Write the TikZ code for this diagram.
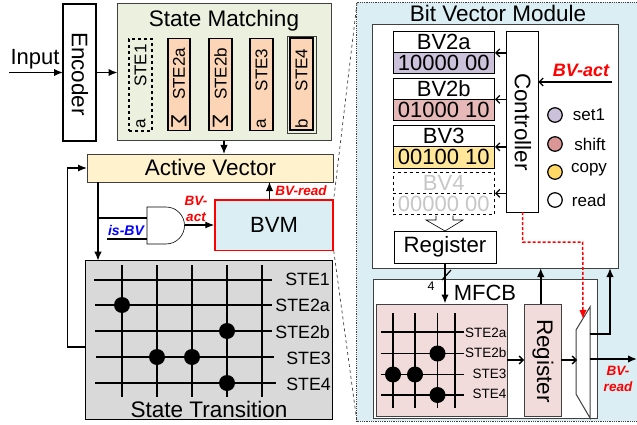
\documentclass[tikz,border=0pt]{standalone}
\usepackage{fontspec}
\setmainfont{Liberation Sans}
\usetikzlibrary{arrows.meta}
\definecolor{smgreen}{HTML}{EBF1DE}
\definecolor{stefill}{HTML}{FBD5B5}
\definecolor{avfill}{HTML}{FFF2CC}
\definecolor{bvmblue}{HTML}{DAEEF3}
\definecolor{stgray}{HTML}{D9D9D9}
\definecolor{setc}{HTML}{CCC1DA}
\definecolor{shiftc}{HTML}{E6B9B8}
\definecolor{shiftd}{HTML}{D99694}
\definecolor{copyc}{HTML}{FFE699}
\definecolor{copyd}{HTML}{FFD966}
\definecolor{pinkc}{HTML}{F2DCDB}
\definecolor{edge}{HTML}{404040}
\tikzset{
  x=1pt,y=-1pt,
  wire/.style={draw=black,line width=1.6pt},
  arr/.style={wire,-{Latex[length=9pt,width=7.5pt]}},
  openarr/.style={draw=black,line width=1.3pt,-{Straight Barb[length=4pt,width=8pt]}},
  box/.style={draw=edge,line width=1pt,inner sep=0pt,outer sep=0pt},
  ste/.style={draw=black,line width=1.6pt,fill=stefill,minimum width=22.5pt,minimum height=92pt,inner sep=0pt},
  stelab/.style={font=\fontsize{17}{17}\selectfont,rotate=90,inner sep=0pt},
  sigmalab/.style={font=\fontsize{22}{22}\selectfont,rotate=-90,inner sep=0pt},
  ttl/.style={font=\fontsize{22.5}{23}\selectfont,inner sep=0pt},
  xwire/.style={draw=black,line width=1.4pt},
  dot/.style={circle,fill=black,minimum size=16pt,inner sep=0pt},
  xlab/.style={font=\fontsize{17.8}{18}\selectfont,anchor=east,inner sep=0pt},
  mlab/.style={font=\fontsize{13.5}{14}\selectfont,anchor=east,inner sep=0pt},
  redlab/.style={font=\fontsize{13.5}{14}\selectfont\bfseries\itshape,text=red,inner sep=0pt},
  bvtop/.style={draw=black,line width=.8pt,fill=white,minimum width=101.5pt,minimum height=21pt,inner sep=0pt,font=\fontsize{22}{22}\selectfont},
  bvlow/.style={draw=black,line width=.8pt,minimum width=101.5pt,minimum height=21.5pt,inner sep=0pt,font=\fontsize{22}{22}\selectfont},
  legc/.style={circle,draw=black,line width=1.2pt,minimum size=14.5pt,inner sep=0pt},
  leglab/.style={font=\fontsize{17}{17}\selectfont,inner sep=0pt},
}
\begin{document}
\begin{tikzpicture}
\useasboundingbox (0,0) rectangle (637,425);
% --- right panel
\node[draw=edge,densely dotted,line width=.8pt,fill=bvmblue,minimum width=280.5pt,minimum height=419pt,inner sep=0pt] (panel) at (496.75,211.5) {};
\node[ttl] (paneltitle) at (498,13.5) {Bit Vector Module};
\node[box,fill=white,minimum width=246pt,minimum height=243pt] (bvbox) at (495,146.5) {};
% BV stacks
\node[bvtop] (bva) at (443.75,42) {BV2a};
\node[bvlow,fill=setc] (bval) at (443.75,63) {10000 00};
\node[bvtop] (bvb) at (443.75,88.5) {BV2b};
\node[bvlow,fill=shiftc] (bvbl) at (443.75,110) {01000 10};
\node[bvtop] (bvc) at (443.75,136) {BV3};
\node[bvlow,fill=copyc] (bvcl) at (443.75,157.2) {00100 10};
\node[bvtop,dashed,text=black!22] (bvd) at (443.75,182.5) {BV4};
\node[bvlow,dashed,text=black!22] (bvdl) at (443.75,204) {00000 00};
\node[box,draw=black,line width=.8pt,fill=white,minimum width=31.5pt,minimum height=181pt] (ctrl) at (522.5,121.5) {};
\node[rotate=-90,font=\fontsize{22.5}{23}\selectfont,inner sep=0pt] (ctrllab) at (523,122) {Controller};
\coordinate (ca) at (ctrl.west |- bva.south);
\coordinate (cb) at (ctrl.west |- bvb.south);
\coordinate (cc) at (ctrl.west |- bvc.south);
\coordinate (cd) at (ctrl.west |- bvd.south);
\draw[openarr] (ca) -- (bva.south east);
\draw[openarr] (cb) -- (bvb.south east);
\draw[openarr] (cc) -- (bvc.south east);
\draw[openarr] (cd) -- (bvd.south east);
\coordinate (actin) at (612,82);
\draw[openarr] (actin) -- (ctrl.east |- actin);
\node[redlab,font=\fontsize{18}{18}\selectfont\bfseries\itshape] (actlab) at (581,70) {BV-act};
\node[legc,fill=setc] (l1) at (555,115) {};
\node[legc,fill=shiftd] (l2) at (555,144) {};
\node[legc,fill=copyd] (l3) at (555,172) {};
\node[legc,fill=white] (l4) at (555,200) {};
\node[leglab] (t1) at (589,114.5) {set1};
\node[leglab] (t2) at (590,144) {shift};
\node[leglab] (t3) at (589,170) {copy};
\node[leglab] (t4) at (589,200) {read};
% hollow arrow
\draw[draw=black,line width=.6pt,fill=white] (436,215.5) -- (436,220) -- (426,220) -- (445,231) -- (463,220) -- (453,220) -- (453,215.5);
\node[box,draw=black,line width=.8pt,fill=white,minimum width=102pt,minimum height=32pt,font=\fontsize{22.2}{23}\selectfont] (regtop) at (445,247) {Register};
% MFCB
\node[box,fill=white,minimum width=224pt,minimum height=139pt] (mfcb) at (485,348.5) {};
\node[ttl,font=\fontsize{22}{22}\selectfont] (mfcblab) at (485,293) {MFCB};
\node[box,fill=pinkc,minimum width=131pt,minimum height=112pt] (xb) at (441.5,360) {};
\node[box,fill=pinkc,minimum width=37pt,minimum height=112pt] (reg2) at (542.5,360) {};
\node[rotate=-90,font=\fontsize{22.5}{23}\selectfont,inner sep=0pt] (reg2lab) at (543,361) {Register};
% small crossbar
\foreach \x in {393,415,437.5,455} \draw[xwire] (\x,313) -- (\x,408);
\foreach \y in {332,353.5,374.5,395} \draw[xwire] (381,\y) -- (463.5,\y);
\foreach \p/\q/\n in {437.5/353.5/a,393/374.5/b,415/374.5/c,437.5/395/d} \node[dot] (m\n) at (\p,\q) {};
\node[mlab] (m1) at (506.5,332.5) {STE2a};
\node[mlab] (m2) at (506.5,353) {STE2b};
\node[mlab] (m3) at (506.5,373.5) {STE3};
\node[mlab] (m4) at (506.5,394) {STE4};
% mux
\draw[draw=edge,line width=1pt,fill=white] (576,330) -- (590,307) -- (590,418) -- (576,394) -- cycle;
\coordinate (muxin) at (577,360);
\coordinate (muxa) at (590,334);
\coordinate (muxb) at (590,359);
\coordinate (muxred) at (583,319);
\coordinate (muxup) at (610,268);
\coordinate (bvrout) at (637,359);
\coordinate (regout) at (540.7,304);
\coordinate (regin) at (540.7,268);
\coordinate (xbin) at (445,303.5);
\draw[openarr] (xb.east) -- (reg2.west);
\draw[openarr] (reg2.east) -- (muxin);
\draw[arr] (muxa) -| (muxup);
\draw[arr] (muxb) -- (bvrout);
\draw[arr] (regout) -- (regin);
\draw[arr] (regtop.south) -- (xbin);
\coordinate (sa) at (442,280); \coordinate (sb) at (451,270);
\draw[draw=black,line width=1.2pt] (sa) -- (sb);
\node[font=\fontsize{12.5}{13}\selectfont,inner sep=0pt] (four) at (431,286.5) {4};
\draw[draw=red,line width=1.5pt,densely dashed,-{Latex[length=9pt,width=7.5pt]}] (522.5,212) -- (522.5,242) -- (582.7,242) -- (muxred);
\node[redlab] (r1) at (618,371) {BV-};
\node[redlab] (r2) at (618,386.5) {read};
% --- dashed zoom lines
\coordinate (d1) at (357,3); \coordinate (d2) at (357,422);
% --- left side
\node[box,draw=black,line width=1.6pt,fill=white,minimum width=33pt,minimum height=137pt] (enc) at (79.5,72.5) {};
\node[rotate=-90,font=\fontsize{22.5}{23}\selectfont,inner sep=0pt] (enclab) at (80,74) {Encoder};
\node[font=\fontsize{22}{22}\selectfont,inner sep=0pt] (input) at (35,59) {Input};
\coordinate (inp) at (9,72.5);
\draw[arr] (inp) -- (enc.west |- inp);
\node[box,fill=smgreen,minimum width=214pt,minimum height=137pt] (sm) at (224.5,72.5) {};
\draw[arr] (enc.east |- inp) -- (sm.west |- inp);
\node[ttl] (smlab) at (224,21) {State Matching};
\node[ste,draw=black,dashed,fill=none,minimum width=23pt] (s1) at (140.5,85) {};
\node[ste] (s2) at (179,84.5) {};
\node[ste] (s3) at (220.5,84.5) {};
\node[ste] (s4) at (261.5,84.5) {};
\node[draw=edge,line width=.8pt,minimum width=29pt,minimum height=97pt,inner sep=0pt] (s5o) at (301.5,84.5) {};
\node[ste,line width=2pt] (s5) at (301.5,84.5) {};
\node[stelab] (s1t) at (140.5,65.5) {STE1};
\node[stelab] (s2t) at (179,74) {STE2a};
\node[stelab] (s3t) at (220.5,74) {STE2b};
\node[stelab] (s4t) at (261.5,70) {STE3};
\node[stelab] (s5t) at (301.5,70) {STE4};
\node[stelab] (s1s) at (141,124) {a};
\node[sigmalab] (s2s) at (179,121) {Σ};
\node[sigmalab] (s3s) at (220.5,121) {Σ};
\node[stelab] (s4s) at (261.5,124) {a};
\node[stelab] (s5s) at (301.5,124) {b};
% active vector
\node[box,fill=avfill,minimum width=246pt,minimum height=28pt] (av) at (210,168) {};
\node[font=\fontsize{22.5}{23}\selectfont,inner sep=0pt] (avlab) at (210.5,167) {Active Vector};
\coordinate (avin) at (224,154);
\coordinate (smout) at (224,141);
\draw[arr,line width=1.3pt] (smout) -- (avin);
% BVM
\node[draw=red,line width=1.5pt,fill=bvmblue,minimum width=118pt,minimum height=50.5pt,inner sep=0pt,font=\fontsize{22}{22}\selectfont] (bvm) at (274,225) {BVM};
\coordinate (bvmout) at (269.5,200);
\coordinate (avread) at (269.5,182);
\draw[arr,line width=1.3pt] (bvmout) -- (avread);
\node[redlab] (bvread) at (301,190.5) {BV-read};
% gate
\draw[draw=black,line width=.6pt,fill=white] (147,207) -- (166,207) arc[start angle=90,end angle=-90,radius=18.5pt] -- (147,244) -- cycle;
\coordinate (gatea) at (147,218);
\coordinate (gateb) at (147,239);
\coordinate (gateo) at (184.5,225);
\coordinate (isbv) at (107,239);
\coordinate (tap) at (98,218);
\draw[draw=black,line width=1.2pt] (tap) -- (gatea);
\draw[draw=black,line width=1.2pt] (isbv) -- (gateb);
\node[font=\fontsize{14}{14}\selectfont\bfseries\itshape,text=blue,inner sep=0pt] (isbvlab) at (126,230) {is-BV};
\draw[draw=black,line width=1.2pt,-{Latex[length=9pt,width=7pt]}] (gateo) -- (bvm.west |- gateo);
\node[redlab] (a1) at (196,200.5) {BV-};
\node[redlab] (a2) at (196,217) {act};
% state transition
\node[box,draw=black,line width=.8pt,fill=stgray,minimum width=247pt,minimum height=158.5pt] (st) at (209,340) {};
\coordinate (avout) at (98,182);
\coordinate (stin) at (98,260.7);
\coordinate (stout) at (85.5,347);
\coordinate (loop) at (67.5,347);
\draw[arr,line width=1.5pt] (avout) -- (stin);
\draw[draw=black,line width=1.2pt,-{Latex[length=9pt,width=7pt]}] (stout) -- (loop) |- (av.west);
\foreach \x in {122,157,192,227,262} \draw[xwire] (\x,265) -- (\x,397);
\draw[xwire] (94,280) -- (272,280);
\draw[xwire] (95,305) -- (272,305);
\draw[xwire] (95,331) -- (272,331);
\draw[xwire] (96,357) -- (274,357);
\draw[xwire] (95,383) -- (276,383);
\foreach \p/\q/\n in {122/305/a,227/331/b,157/357/c,192/357/d,227/383/e} \node[dot] (x\n) at (\p,\q) {};
\node[xlab] (x1) at (330,279.5) {STE1};
\node[xlab] (x2) at (330,305) {STE2a};
\node[xlab] (x3) at (330,332) {STE2b};
\node[xlab] (x4) at (331,358) {STE3};
\node[xlab] (x5) at (331,384) {STE4};
\node[ttl] (stlab) at (209,409) {State Transition};
% zoom lines
\draw[draw=edge,dashed,line width=.7pt] (d1) -- (bvm.north east);
\draw[draw=edge,dashed,line width=.7pt] (bvm.south east) -- (d2);
\end{tikzpicture}
\end{document}
